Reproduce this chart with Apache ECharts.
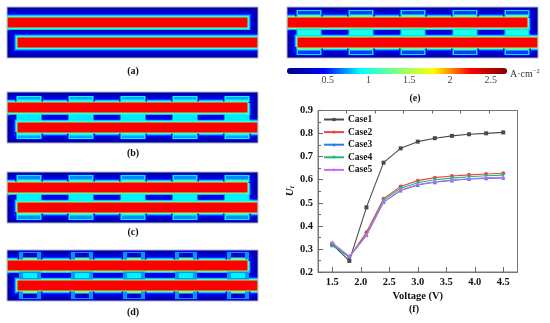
<!DOCTYPE html>
<html><head><meta charset="utf-8">
<style>html,body{margin:0;padding:0;background:#fff}#c{width:550px;height:323px;filter:blur(0.7px)}</style>
<script src="https://cdn.jsdelivr.net/npm/echarts@6/dist/echarts.min.js"></script>
</head><body><div id="c"></div>
<script>
// ---- line chart data ----
const voltage = [1.5,1.8,2.1,2.4,2.7,3.0,3.3,3.6,3.9,4.2,4.5];
const case1 = [0.320,0.248,0.480,0.674,0.736,0.765,0.780,0.790,0.797,0.801,0.805];
const case2 = [0.320,0.265,0.372,0.518,0.571,0.596,0.609,0.616,0.621,0.625,0.628];
const case3 = [0.316,0.265,0.360,0.503,0.553,0.577,0.589,0.597,0.603,0.606,0.608];
const case4 = [0.317,0.266,0.362,0.512,0.563,0.587,0.600,0.607,0.613,0.617,0.620];
const case5 = [0.328,0.268,0.358,0.502,0.555,0.579,0.591,0.599,0.604,0.608,0.610];
const caseNames = ['Case1','Case2','Case3','Case4','Case5'];
const caseColors = ['#4a4a4a','#f4413f','#2a7de8','#1db67c','#c36cf5'];
const caseSymbols = ['rect','circle','triangle','path://M0,0L10,0L5,9Z','diamond'];
const xMajor = [1.5,2,2.5,3,3.5,4,4.5];
const xMinor = [1.75,2.25,2.75,3.25,3.75,4.25];

// ---- current density fields: [x0,x1,y0,y1,A/cm2] in the panel's own units ----
const panelLabels = ['(a)','(b)','(c)','(d)','(e)','(f)'];
const upperChannel = [0,241,10,21];
const lowerChannel = [10,251,30,41];
const glowOffsets = [7,6,5,4,3,2,1];
const glowValues  = [0.2,0.27,0.34,0.42,0.55,0.8,1.0];
const coreValue = 2.25;
const ribsWide   = [[11,33],[63,85],[115,137],[167,189],[219,241]];
const ribsNarrow = [[16,30],[68,82],[120,134],[172,186],[224,238]];
// edge: colour at channel wall; ribs; pad: outline margin; rim: outline; far: rib interior far from wall;
// near: rib interior beside wall; mid: rib between channels; gap: oval between ribs; ribTop: outer rib height
const panelB = {edge:1.3,  ribs:ribsWide,   pad:1.5, rim:0.9,  far:0.74, near:0.95, mid:0.86, gap:0.4,  ribTop:4};
const panelC = {edge:1.45, ribs:ribsWide,   pad:1.5, rim:0.88, far:0.7,  near:1.05, mid:0.88, gap:0.38, ribTop:3};
const panelD = {edge:1.45, ribs:ribsNarrow, pad:4,   rim:0.72, far:0.3,  near:1.2,  mid:0.88, gap:0.4,  ribTop:2};
const panelE = {edge:1.5,  ribs:ribsWide,   pad:1.5, rim:0.85, far:0.55, near:1.1,  mid:0.98, gap:0.4,  ribTop:3};
const panelA = {edge:1.2,  ribs:[], pad:0, rim:0, far:0, near:0, mid:0, gap:0, ribTop:0};
const fieldBackground = 0.14;

function channelGlow(out, c){
  glowOffsets.forEach((o,i)=>out.push([c[0]-o,c[1]+o,c[2]-o,c[3]+o,glowValues[i]]));
}
function channelCore(out, c, edge){
  out.push([c[0]-0.5,c[1]+0.5,c[2]-0.5,c[3]+0.5,edge]);
  out.push([c[0]+0.5,c[1]-0.5,c[2]+0.5,c[3]-0.5,coreValue]);
}
function field(p){
  const out=[[0,251,0,51,fieldBackground]];
  channelGlow(out,upperChannel); channelGlow(out,lowerChannel);
  p.ribs.forEach((r,i)=>{
    const a=r[0],b=r[1];
    [[p.ribTop,10,1],[41,51-p.ribTop,-1]].forEach(t=>{
      const y0=t[0],y1=t[1],s=t[2];
      out.push([a-p.pad-1.5,b+p.pad+1.5,y0-1,y1+1,0.42]);
      out.push([a-p.pad,b+p.pad,y0,y1,p.rim]);
      out.push([a,b,y0+1,y1-1,p.far]);
      if(s>0) out.push([a,b,y1-2.5,y1,p.near]); else out.push([a,b,y0,y0+2.5,p.near]);
    });
    out.push([a-p.pad,b+p.pad,21,30,p.rim]);
    out.push([a,b,23,28,p.mid]);
    const nx=p.ribs[i+1];
    if(nx) out.push([b+p.pad+1.5,nx[0]-p.pad-1.5,23.5,27.5,p.gap]);
  });
  channelCore(out,upperChannel,p.edge); channelCore(out,lowerChannel,p.edge);
  return out;
}
const panels=[panelA,panelB,panelC,panelD,panelE];
const panelBoxes=[[7,7],[7,92],[7,172],[7,250],[287,7]];
const captions=[[133,71],[133,153],[133,232],[133,312],[415,98],[414,309]];
const jet=['#00007f','#0000ff','#00ffff','#7fff7f','#ffff00','#ff0000','#7f0000'];
const colorbarTicks=[0.5,1,1.5,2,2.5];

const serif='"Liberation Serif","Times New Roman",serif';
function rectItem(params,api){
  const a=api.coord([api.value(0),api.value(2)]), b=api.coord([api.value(1),api.value(3)]);
  return {type:'rect',shape:{x:a[0],y:a[1],width:b[0]-a[0],height:b[1]-a[1]},style:{fill:api.visual('color')}};
}
const grids=[],xAxes=[],yAxes=[],series=[];
panels.forEach((p,i)=>{
  grids.push({left:panelBoxes[i][0],top:panelBoxes[i][1],width:251,height:51,show:true,borderColor:'#b4b4c4',borderWidth:1,backgroundColor:'transparent',z:3});
  xAxes.push({gridIndex:i,type:'value',min:0,max:251,show:false});
  yAxes.push({gridIndex:i,type:'value',min:0,max:51,inverse:true,show:false});
  series.push({type:'custom',xAxisIndex:i,yAxisIndex:i,renderItem:rectItem,clip:true,silent:true,
    encode:{x:[0,1],y:[2,3]},data:field(p),z:2});
});
grids.push({left:287,top:68,width:220,height:6});
xAxes.push({gridIndex:5,type:'value',min:0,max:2.7,
  axisLine:{show:false},axisTick:{show:false},splitLine:{show:false},
  axisLabel:{customValues:colorbarTicks,formatter:v=>String(v),fontFamily:serif,fontSize:10,color:'#444',margin:1},
  name:'A·cm{s|−2}',nameLocation:'end',nameGap:3,
  nameTextStyle:{fontFamily:serif,fontSize:10,color:'#333',verticalAlign:'middle',rich:{s:{fontSize:6.5,verticalAlign:'top',fontFamily:serif,color:'#333',padding:[0,0,5,0]}}}});
yAxes.push({gridIndex:5,type:'value',show:false});
grids.push({left:318,top:110.5,width:199.5,height:161.5,show:true,borderColor:'#777',borderWidth:1,backgroundColor:'#fff'});
const lbl={fontFamily:serif,fontWeight:'bold',fontSize:10.5,color:'#111'};
xAxes.push({gridIndex:6,type:'value',min:1.25,max:4.75,
  name:'Voltage (V)',nameLocation:'middle',nameGap:19,nameTextStyle:lbl,
  axisLine:{lineStyle:{color:'#777'}},splitLine:{show:false},
  axisTick:{customValues:xMajor,inside:true,length:5,lineStyle:{color:'#666'}},
  axisLabel:{...lbl,customValues:xMajor,formatter:v=>v.toFixed(1),margin:5}});
xAxes.push({gridIndex:6,type:'value',min:1.25,max:4.75,
  axisLine:{show:false},splitLine:{show:false},axisLabel:{show:false},
  axisTick:{customValues:xMinor,inside:true,length:3,lineStyle:{color:'#666'}}});
yAxes.push({gridIndex:6,type:'value',min:0.2,max:0.9,interval:0.1,
  name:'{u|U}{i|i}',nameLocation:'middle',nameGap:21,
  nameTextStyle:{rich:{u:{fontFamily:serif,fontStyle:'italic',fontWeight:'bold',fontSize:11,color:'#111'},i:{fontFamily:serif,fontStyle:'italic',fontWeight:'bold',fontSize:7,color:'#111',verticalAlign:'bottom'}}},
  axisLine:{show:true,lineStyle:{color:'#777'}},splitLine:{show:false},
  axisTick:{show:true,inside:true,length:5,lineStyle:{color:'#666'}},
  minorTick:{show:true,splitNumber:2,length:3,lineStyle:{color:'#666'}},
  axisLabel:{...lbl,formatter:v=>v.toFixed(1),margin:5}});
[case1,case2,case3,case4,case5].forEach((vals,i)=>{
  series.push({type:'line',name:caseNames[i],xAxisIndex:6,yAxisIndex:6,
    data:voltage.map((v,k)=>[v,vals[k]]),
    symbol:caseSymbols[i],symbolSize:4,showSymbol:true,
    lineStyle:{width:1.1,color:caseColors[i]},itemStyle:{color:caseColors[i]},z:5+i});
});
const chart=echarts.init(document.getElementById('c'),null,{width:550,height:323});
chart.setOption({
  animation:false,backgroundColor:'#fff',
  grid:grids,xAxis:xAxes,yAxis:yAxes,series,
  title:panelLabels.map((t,i)=>({text:t,left:captions[i][0],top:captions[i][1]-5,textAlign:'center',padding:0,
    textStyle:{fontFamily:serif,fontWeight:'bold',fontSize:10,color:'#111'}})),
  visualMap:{type:'continuous',show:true,min:0,max:2.7,seriesIndex:[0,1,2,3,4],dimension:4,orient:'horizontal',
    left:287,top:68,padding:0,itemWidth:6,itemHeight:220,calculable:false,hoverLink:false,realtime:false,
    inRange:{color:jet},textStyle:{fontSize:1,color:'transparent'}},
  legend:{orient:'vertical',left:323,top:114.5,padding:0,itemWidth:20,itemHeight:4,itemGap:2.6,
    data:caseNames,textStyle:{fontFamily:serif,fontWeight:'bold',fontSize:9.5,color:'#111',padding:[0,0,0,-1]}}
});
</script></body></html>
